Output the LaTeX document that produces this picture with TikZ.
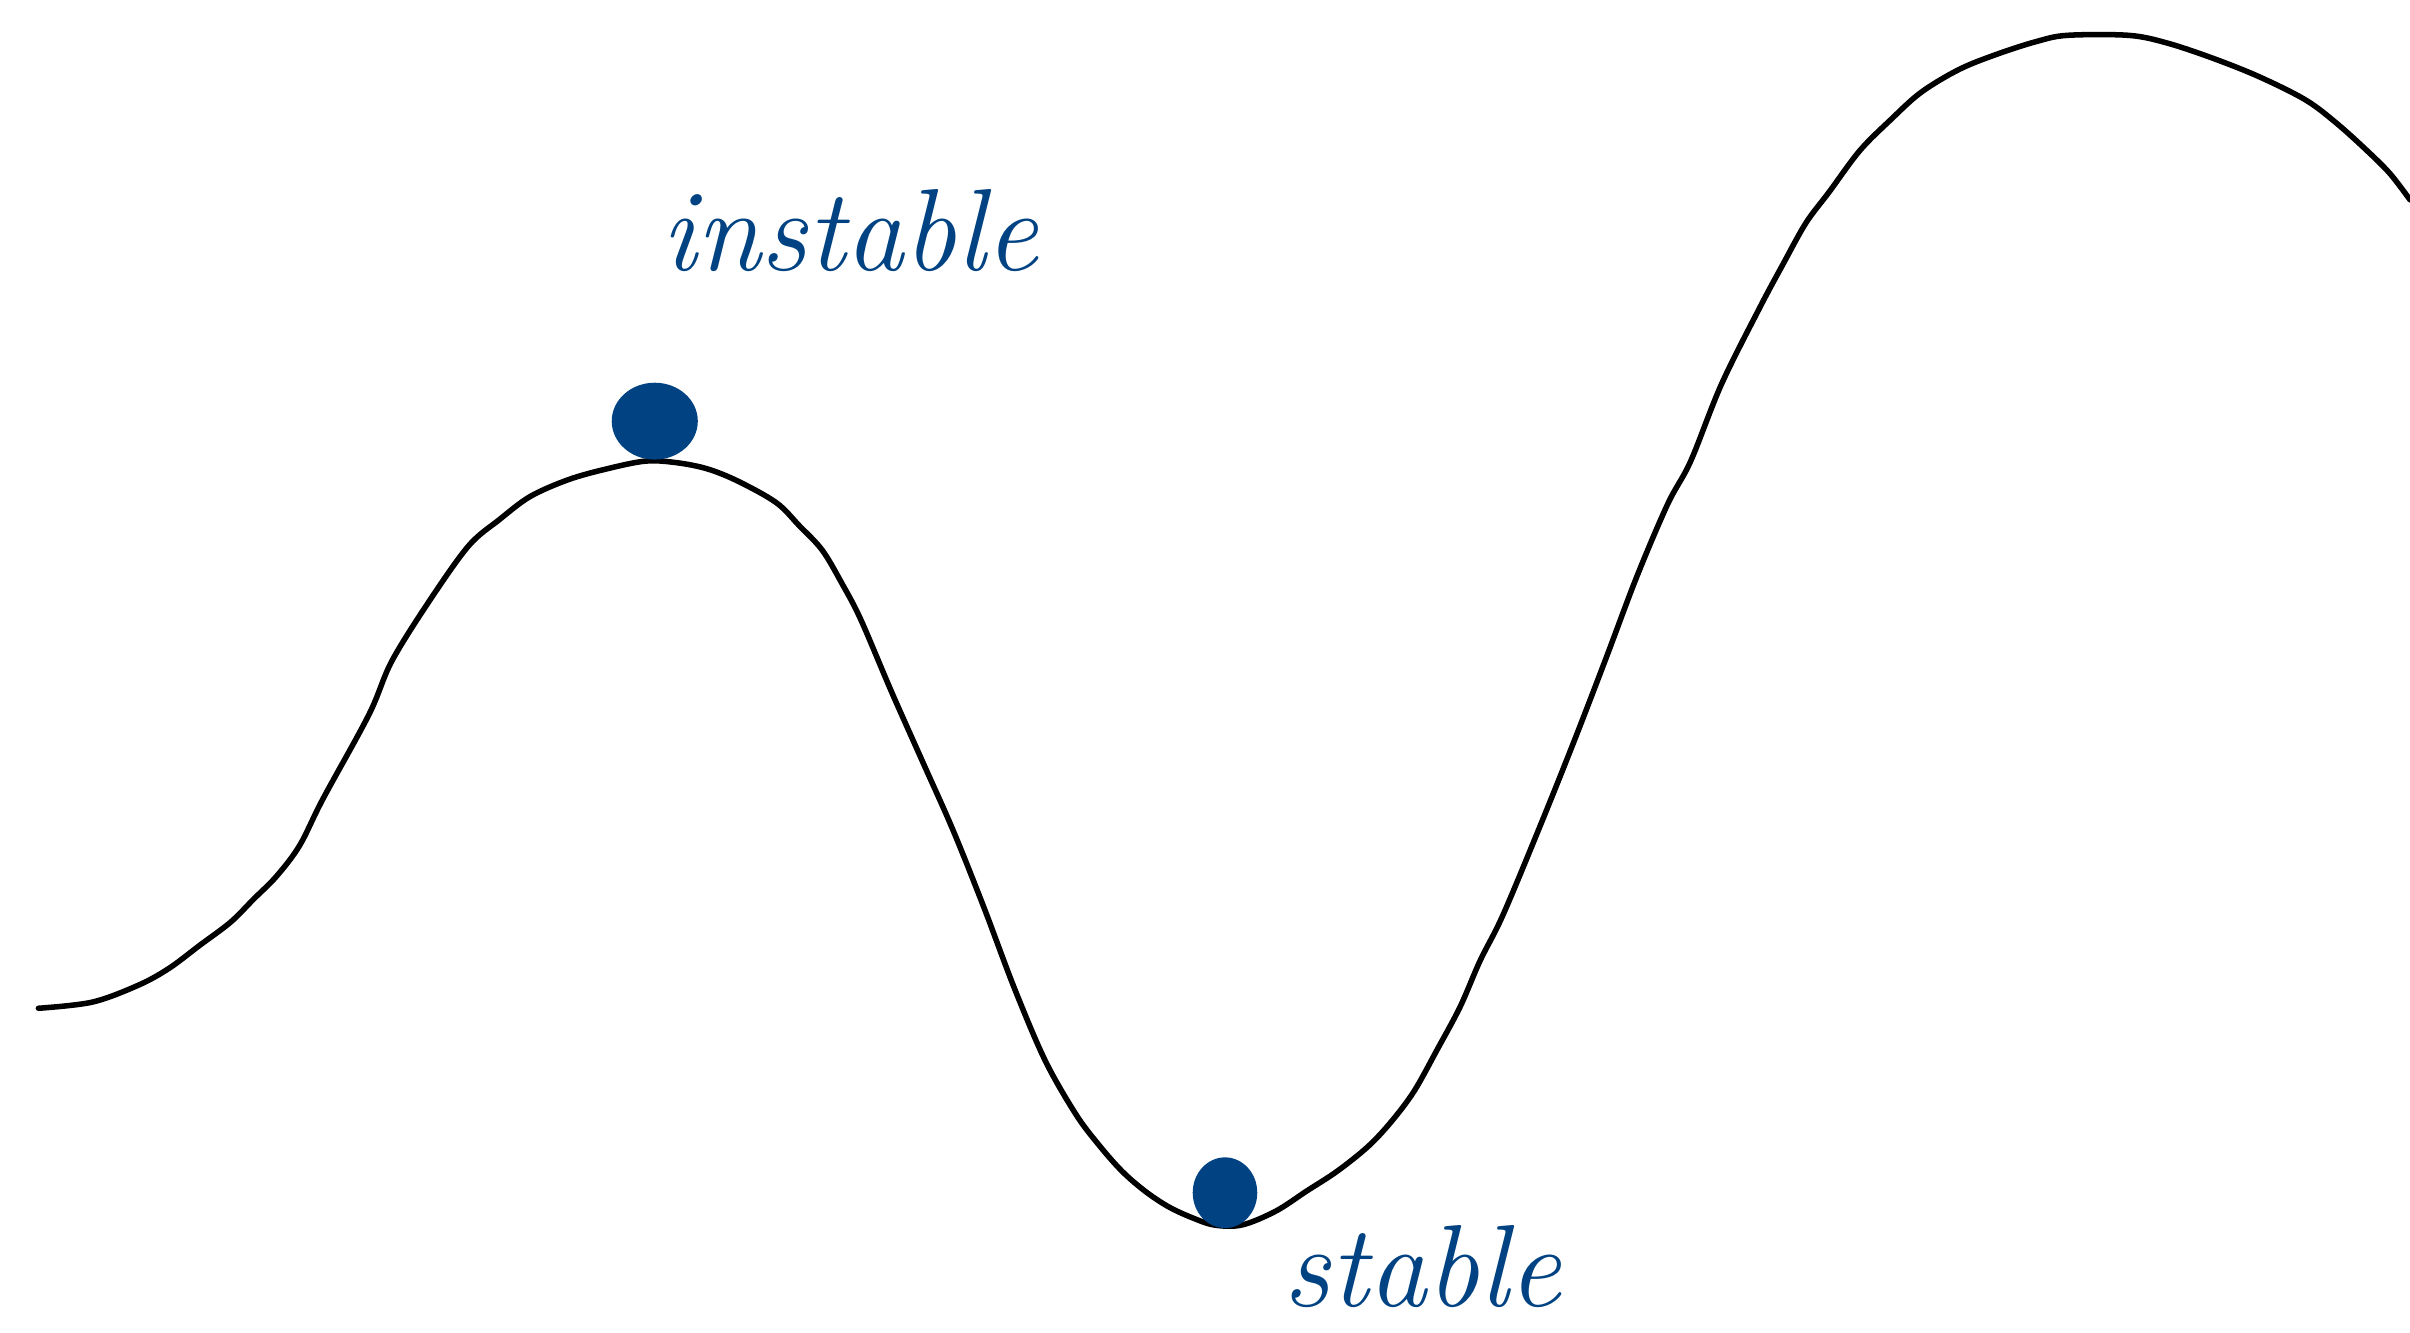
\documentclass[tikz,border=0pt]{standalone}
\usepackage{xcolor}
\usepackage{tikz}
\usetikzlibrary{positioning}
\definecolor{inkblue}{RGB}{0,66,130}
\tikzset{
  landscape-line/.style={draw=black, line width=3.6pt, line cap=round, line join=round},
  ball-fill/.style={fill=inkblue, draw=inkblue, line width=2pt},
  hand-label/.style={font=\fontsize{76}{84}\selectfont\itshape, text=inkblue, inner sep=0pt, anchor=base west}
}
\begin{document}
\begin{tikzpicture}[x=1pt, y=-1pt]
% frame of the sketch
\useasboundingbox (0,0) rectangle (1568,867);

% potential landscape
\draw[landscape-line] plot[smooth, tension=0.55] coordinates {
  (25,656) (60,652) (90,641) (110,630) (130,615) (150,600) (165,585) (180,570)
  (195,550) (210,520) (240,465) (255,430) (280,390) (305,355) (325,338)
  (345,323) (370,312) (395,305) (420,300) (440,301) (460,305) (480,313)
  (505,327) (520,342) (535,358) (548,380) (560,403) (580,450) (600,495)
  (620,540) (640,590) (660,643) (680,690) (700,725) (715,745) (730,762)
  (745,775) (760,785) (775,792) (790,797) (808,797) (830,788) (850,775)
  (870,762) (890,746) (905,730) (920,710) (935,683) (950,655) (963,625)
  (978,595) (1003,535) (1025,480) (1045,428) (1065,375) (1085,328)
  (1100,300) (1120,250) (1145,200) (1160,172) (1175,145) (1190,125)
  (1210,98) (1230,78) (1250,60) (1275,45) (1300,35) (1325,27) (1345,23)
  (1385,23) (1410,28) (1440,38) (1470,50) (1500,65) (1520,80) (1540,98)
  (1555,113) (1568,130)};

% balls
\fill[ball-fill] (426,274) ellipse [x radius=27, y radius=24];
\fill[ball-fill] (797,776) ellipse [x radius=20, y radius=22];

% labels
\node[hand-label] (unstable) at (430,176) {instable};
\node[hand-label] (stable) at (835,850) {stable};
\end{tikzpicture}
\end{document}
